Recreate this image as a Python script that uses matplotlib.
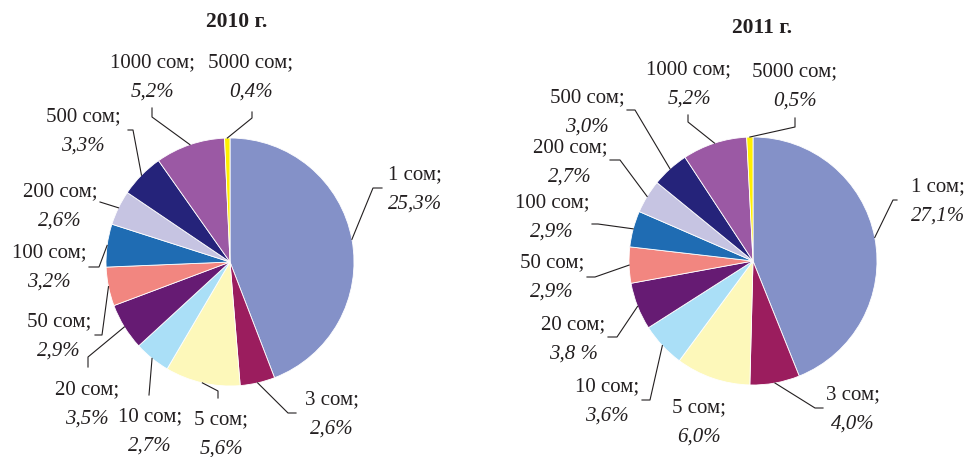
import numpy as np
import matplotlib.pyplot as plt

# denominations and shares
denoms = ['1 сом', '3 сом', '5 сом', '10 сом', '20 сом', '50 сом',
          '100 сом', '200 сом', '500 сом', '1000 сом', '5000 сом']
share_2010 = [25.3, 2.6, 5.6, 2.7, 3.5, 2.9, 3.2, 2.6, 3.3, 5.2, 0.4]
share_2011 = [27.1, 4.0, 6.0, 3.6, 3.8, 2.9, 2.9, 2.7, 3.0, 5.2, 0.5]
pct_text_2010 = ['25,3%', '2,6%', '5,6%', '2,7%', '3,5%', '2,9%',
                 '3,2%', '2,6%', '3,3%', '5,2%', '0,4%']
pct_text_2011 = ['27,1%', '4,0%', '6,0%', '3,6%', '3,8 %', '2,9%',
                 '2,9%', '2,7%', '3,0%', '5,2%', '0,5%']

colors = ['#8491C8', '#9B1D5E', '#FDF8BA', '#AADFF7', '#661B73', '#F28680',
          '#1F6CB3', '#C6C4E2', '#25237A', '#9B59A4', '#FFEF00']

W, H = 964, 457

# layout (pixel positions, y measured from top)
lab_2010 = [(415, 175), (332, 400), (221, 420), (150, 417), (87, 390), (59, 322),
            (49, 253), (60, 192), (83, 117), (152, 63), (251, 63)]
lead_2010 = [[(373, 188), (382, 188)], [(288, 413), (296, 413)], [(218, 391), (218, 398)],
             [(149, 395)], [(88, 357), (88, 367)], [(102, 335), (95, 335)],
             [(99, 267), (89, 267)], [(100, 202)], [(133, 130), (128, 130)],
             [(152, 117), (152, 108)], [(252, 118), (252, 112)]]
lab_2011 = [(938, 187), (853, 395), (699, 408), (607, 387), (573, 325), (552, 263),
            (552, 203), (570, 148), (587, 98), (689, 70), (795, 72)]
lead_2011 = [[(893, 200), (897, 200)], [(815, 408), (823, 408)], None,
             [(650, 400), (642, 400)], [(617, 337), (608, 337)], [(595, 277), (587, 277)],
             [(598, 224), (592, 224)], [(620, 160), (610, 160)], [(635, 110), (627, 110)],
             [(688, 122), (688, 115)], [(795, 127), (795, 118)]]

plt.rcParams['font.family'] = ['Liberation Serif', 'DejaVu Serif']

fig = plt.figure(figsize=(W / 100, H / 100), dpi=100)
ax = fig.add_axes([0, 0, 1, 1])


def drawPie(values, pcts, cx, cy, r, labels, leads, title, tx, ty):
    c = (cx, H - cy)
    wedges, _ = ax.pie(values, colors=colors, startangle=90, counterclock=False,
                       center=c, radius=r, frame=True,
                       wedgeprops=dict(edgecolor='white', linewidth=0.6))
    ax.text(tx, H - ty, title, ha='center', va='center', fontsize=15.5,
            fontweight='bold', color='#231F20')
    for i, w in enumerate(wedges):
        mid = np.deg2rad((w.theta1 + w.theta2) / 2)
        x0 = c[0] + r * np.cos(mid)
        y0 = c[1] + r * np.sin(mid)
        if leads[i] is not None:
            xs = [x0] + [p[0] for p in leads[i]]
            ys = [y0] + [H - p[1] for p in leads[i]]
            ax.plot(xs, ys, color='#231F20', lw=0.8)
        lx, ly = labels[i]
        ax.text(lx, H - ly, denoms[i] + ';', ha='center', va='center',
                fontsize=15, color='#231F20')
        ax.text(lx, H - ly - 29, pcts[i], ha='center', va='center',
                fontsize=15, style='italic', color='#231F20')


drawPie(share_2010, pct_text_2010, 230, 262, 124, lab_2010, lead_2010, '2010 г.', 237, 22)
drawPie(share_2011, pct_text_2011, 753, 261, 124, lab_2011, lead_2011, '2011 г.', 762, 28)

ax.set_xlim(0, W)
ax.set_ylim(0, H)
ax.set_aspect('equal')
ax.axis('off')

fig.savefig('out.png', dpi=100, facecolor='white')
